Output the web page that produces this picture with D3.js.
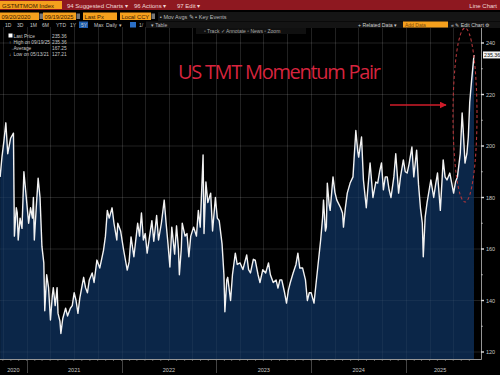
<!DOCTYPE html>
<html>
<head>
<meta charset="utf-8">
<script src="https://d3js.org/d3.v7.min.js"></script>
<style>
  html, body { margin: 0; padding: 0; background: #000; }
  svg { display: block; font-family: "Liberation Sans", Arial, sans-serif; }
</style>
<title>GSTMTMOM Index</title>
</head>
<body>
<div id="chart"></div>
<script>
// GSTMTMOM Index, daily, 09/20/2020 - 09/19/2025 (decimal years)
var when = [2020.72,2020.74,2020.76,2020.78,2020.80,2020.83,2020.86,2020.87,2020.89,2020.90,
  2020.91,2020.93,2020.95,2020.97,2021.00,2021.02,2021.04,2021.06,2021.07,2021.08,
  2021.10,2021.12,2021.14,2021.16,2021.18,2021.19,2021.21,2021.23,2021.25,2021.27,
  2021.28,2021.30,2021.32,2021.33,2021.35,2021.36,2021.38,2021.41,2021.43,2021.46,
  2021.48,2021.50,2021.52,2021.54,2021.56,2021.60,2021.62,2021.64,2021.66,2021.69,
  2021.71,2021.74,2021.77,2021.81,2021.83,2021.85,2021.87,2021.90,2021.92,2021.95,
  2021.96,2021.99,2022.02,2022.06,2022.08,2022.10,2022.13,2022.17,2022.19,2022.21,
  2022.23,2022.25,2022.27,2022.30,2022.32,2022.34,2022.37,2022.39,2022.42,2022.45,
  2022.47,2022.49,2022.51,2022.53,2022.56,2022.58,2022.60,2022.61,2022.63,2022.64,
  2022.67,2022.69,2022.71,2022.73,2022.76,2022.79,2022.81,2022.83,2022.86,2022.87,
  2022.89,2022.91,2022.94,2022.96,2022.99,2023.01,2023.03,2023.06,2023.08,2023.09,
  2023.11,2023.12,2023.15,2023.17,2023.20,2023.22,2023.25,2023.28,2023.32,2023.34,
  2023.36,2023.39,2023.41,2023.44,2023.46,2023.49,2023.52,2023.55,2023.57,2023.60,
  2023.63,2023.65,2023.67,2023.69,2023.72,2023.74,2023.76,2023.78,2023.81,2023.84,
  2023.86,2023.88,2023.91,2023.94,2023.96,2023.98,2024.00,2024.03,2024.05,2024.07,
  2024.10,2024.12,2024.13,2024.15,2024.16,2024.17,2024.19,2024.20,2024.23,2024.25,
  2024.27,2024.31,2024.33,2024.34,2024.36,2024.38,2024.41,2024.44,2024.47,2024.49,
  2024.50,2024.53,2024.55,2024.58,2024.60,2024.62,2024.65,2024.68,2024.70,2024.72,
  2024.74,2024.76,2024.78,2024.80,2024.82,2024.84,2024.87,2024.89,2024.92,2024.94,
  2024.97,2024.99,2025.01,2025.03,2025.06,2025.08,2025.11,2025.13,2025.15,2025.17,
  2025.18,2025.20,2025.22,2025.26,2025.29,2025.31,2025.33,2025.36,2025.39,2025.41,
  2025.43,2025.46,2025.50,2025.52,2025.54,2025.57,2025.59,2025.60,2025.62,2025.64,
  2025.655,2025.67,2025.69,2025.715];
var price = [188,196,202,209,197,203,205,165,176,174,
  163.5,172,168,190,178,170,176,172,180,163.5,
  176,187.5,180,161,154.6,136,150,145,132.4,142,
  145,138,145,135,132,127.21,133,137,134,137,
  138,143,140,135,141,149,145,143,148,150.7,
  147,155.7,152.6,159.6,165,175,172,176,170,163.5,
  170,167,160,151.8,155,164.7,157,170,165,174,
  163.5,166,158.4,166,171,163,173,163.5,170,179,
  170,162,153,168.5,158,169,160,150,160,170,
  165,166,157,165,168.5,165,175,168.5,196.5,166,
  186,178,181.7,167,180,172,171,162,150,135.6,
  148,149,140,150,158.4,154,154.6,152,157.7,152,
  150.7,156,155.7,150,147,152,150.7,154.6,150,147,
  148,144.8,148,148,143,139,144,147,150.7,154,
  158.4,152.6,152.6,148,140,143,143,139,146,153,
  163.5,172,179,167,168.5,185.6,177,175,188,182,
  179,176,174,168.5,176,181.7,185.6,188,206,198,
  195.7,203.5,186.8,176,185,193.4,180,186,185.6,190,
  193.4,183,188,188,183,180,188,197,181.7,188,
  194.6,190,189.5,193,199.6,188,198.4,185,176,170,
  157,172.4,178,186.8,180,185,189.5,175,194.6,188,
  186.8,189.5,181.7,186,188,197,212.8,207,193.4,197,
  203.5,217,225.6,235.36];
var yTicks = [120,140,160,180,200,220,240];
var legendRows = [["Last Price","235.36"],["High on 09/19/25","235.36"],["Average","167.25"],["Low on 05/13/21","127.21"]];
var title = "US TMT Momentum Pair";

var W = 500, H = 375;
var orange = "#f5a01d", barRed = "#8e1820", txt = "#c8c8c8";

function toDate(t) {
  var y = Math.floor(t), a = new Date(y, 0, 1), b = new Date(y + 1, 0, 1);
  return new Date(+a + (t - y) * (b - a));
}
var data = when.map(function(t, i) { return {d: toDate(t), v: price[i]}; });

var svg = d3.select("#chart").append("svg").attr("width", W).attr("height", H);
svg.append("rect").attr("width", W).attr("height", H).attr("fill", "#000");

var x = d3.scaleTime().domain([new Date(2020, 8, 20), new Date(2025, 8, 19)]).range([0, 474]);
var y = d3.scaleLinear().domain([120, 240]).range([352, 43]);
var axisX = 481, axisY = 359, plotTop = 27;

// grid
var grid = svg.append("g").attr("stroke", "#fff").attr("stroke-opacity", 0.13).attr("stroke-width", 0.7);
grid.selectAll("line.v").data(x.ticks(d3.timeMonth.every(3))).enter().append("line")
  .attr("x1", function(d){ return Math.round(x(d)) + 0.5; }).attr("x2", function(d){ return Math.round(x(d)) + 0.5; })
  .attr("y1", plotTop).attr("y2", axisY);
grid.selectAll("line.h").data(yTicks).enter().append("line")
  .attr("x1", 0).attr("x2", axisX).attr("y1", function(d){ return y(d); }).attr("y2", function(d){ return y(d); });

// area + line
var area = d3.area().x(function(d){ return x(d.d); }).y0(axisY).y1(function(d){ return y(d.v); });
var line = d3.line().x(function(d){ return x(d.d); }).y(function(d){ return y(d.v); });
svg.append("path").datum(data).attr("d", area).attr("fill", "#0b2648");
grid.clone(true).raise().attr("stroke-opacity", 0.07);
svg.append("path").datum(data).attr("d", line).attr("fill", "none")
  .attr("stroke", "#f2f2f2").attr("stroke-width", 1.4).attr("stroke-linejoin", "round");

// y axis (right)
svg.append("line").attr("x1", axisX + 0.5).attr("x2", axisX + 0.5).attr("y1", plotTop).attr("y2", axisY + 0.5)
  .attr("stroke", "#bbb").attr("stroke-width", 0.8);
svg.selectAll("line.minor").data(d3.range(120, 250, 10)).enter().append("line")
  .attr("x1", axisX).attr("x2", function(d){ return d % 20 ? axisX + 2 : axisX + 3; })
  .attr("y1", function(d){ return y(d); }).attr("y2", function(d){ return y(d); })
  .attr("stroke", "#ddd").attr("stroke-width", function(d){ return d % 20 ? 0.6 : 1.4; });
svg.selectAll("text.yt").data(yTicks).enter().append("text")
  .attr("x", axisX + 5).attr("y", function(d){ return y(d) + 2; })
  .attr("fill", txt).attr("font-size", 5.5).text(function(d){ return d; });
// last price tag
var last = data[data.length - 1];
svg.append("rect").attr("x", axisX + 2).attr("y", y(last.v) - 3.5).attr("width", 17).attr("height", 7)
  .attr("fill", "#f4f4f4");
svg.append("text").attr("x", axisX + 3).attr("y", y(last.v) + 2).attr("font-size", 5.3).attr("fill", "#111")
  .text(last.v.toFixed(2));

// x axis (bottom)
svg.append("line").attr("x1", 0).attr("x2", axisX + 0.5).attr("y1", axisY + 0.5).attr("y2", axisY + 0.5)
  .attr("stroke", "#bbb").attr("stroke-width", 0.8);
svg.selectAll("line.mt").data(x.ticks(d3.timeMonth.every(1))).enter().append("line")
  .attr("x1", function(d){ return x(d); }).attr("x2", function(d){ return x(d); })
  .attr("y1", axisY).attr("y2", axisY + 2).attr("stroke", "#999").attr("stroke-width", 0.6);
var years = x.ticks(d3.timeYear.every(1));
svg.selectAll("line.yr").data(years).enter().append("line")
  .attr("x1", function(d){ return Math.round(x(d)) + 0.5; }).attr("x2", function(d){ return Math.round(x(d)) + 0.5; })
  .attr("y1", axisY + 1).attr("y2", H - 2).attr("stroke", "#555").attr("stroke-width", 0.8);
var spans = [x.domain()[0]].concat(years).map(function(d, i, arr) {
  var end = i < arr.length - 1 ? arr[i + 1] : x.domain()[1];
  return {label: d.getFullYear(), mid: (x(d) + x(end)) / 2};
});
svg.selectAll("text.xt").data(spans).enter().append("text")
  .attr("x", function(d){ return d.mid; }).attr("y", 372).attr("text-anchor", "middle")
  .attr("fill", txt).attr("font-size", 5.5).text(function(d){ return d.label; });

// annotations: title, arrow, dashed ellipse
svg.append("text").attr("x", 178).attr("y", 79).attr("fill", "#d6243e")
  .attr("font-family", "'Open Sans', sans-serif").attr("font-size", 20).attr("textLength", 203)
  .text(title);
svg.append("defs").append("marker").attr("id", "ah").attr("viewBox", "0 0 10 10")
  .attr("refX", 9).attr("refY", 5).attr("markerWidth", 5).attr("markerHeight", 5).attr("orient", "auto")
  .append("path").attr("d", "M0,0L10,5L0,10z").attr("fill", "#d01c2a");
svg.append("line").attr("x1", 390).attr("x2", 446).attr("y1", 105).attr("y2", 105)
  .attr("stroke", "#d01c2a").attr("stroke-width", 1.4).attr("marker-end", "url(#ah)");
svg.append("ellipse").attr("cx", 465).attr("cy", 115).attr("rx", 12).attr("ry", 87)
  .attr("fill", "none").attr("stroke", "#b3363a").attr("stroke-width", 1.1).attr("stroke-dasharray", "3,2.5");

// legend
var lg = svg.append("g").attr("font-size", 4.8).attr("fill", txt);
lg.append("rect").attr("x", 8.5).attr("y", 33.5).attr("width", 4).attr("height", 4).attr("fill", "#fff");
var marks = ["", "↑", "→", "↓"];
lg.selectAll("text.k").data(legendRows).enter().append("text")
  .attr("x", 13.5).attr("y", function(d, i){ return 38 + i * 6; }).text(function(d){ return d[0]; });
lg.selectAll("text.m").data(marks).enter().append("text")
  .attr("x", 9).attr("y", function(d, i){ return 38 + i * 6; }).attr("font-size", 4.5).text(function(d){ return d; });
lg.selectAll("text.v").data(legendRows).enter().append("text")
  .attr("x", 52).attr("y", function(d, i){ return 38 + i * 6; }).text(function(d){ return d[1]; });

// Bloomberg toolbar
var tb = svg.append("g").attr("font-size", 6);
tb.append("rect").attr("width", W).attr("height", 10).attr("fill", barRed);
tb.append("rect").attr("x", 0).attr("y", 1).attr("width", 62).attr("height", 8).attr("fill", orange);
tb.append("text").attr("x", 2).attr("y", 7.5).attr("fill", "#3a1a00").text("GSTMTMOM Index");
[["94 Suggested Charts ▾", 67], ["96 Actions ▾", 134], ["97 Edit ▾", 177]].forEach(function(m) {
  tb.append("text").attr("x", m[1]).attr("y", 7.5).attr("fill", "#f0d8d8").text(m[0]);
});
tb.append("text").attr("x", 497).attr("y", 7.5).attr("text-anchor", "end").attr("fill", "#f0d8d8").text("Line Chart");

// row 2
tb.append("rect").attr("x", 158).attr("y", 12).attr("width", 342).attr("height", 9).attr("fill", "#151515");
[["09/20/2020", 0, 39], ["09/19/2025", 43, 33], ["Last Px", 83, 34], ["Local CCY", 120, 31]].forEach(function(b) {
  tb.append("rect").attr("x", b[1]).attr("y", 12.5).attr("width", b[2]).attr("height", 7.5).attr("fill", orange);
  tb.append("text").attr("x", b[1] + 1.5).attr("y", 18.5).attr("fill", "#3a1a00").attr("font-size", 5.8).text(b[0]);
});
[39.5, 76.5, 151.5].forEach(function(px) {
  tb.append("rect").attr("x", px).attr("y", 13.5).attr("width", 3.5).attr("height", 5.5).attr("fill", "#777");
});
tb.append("text").attr("x", 160).attr("y", 18.5).attr("fill", "#bbb").attr("font-size", 5.5).text("▪ Mov Avgs ✎    ▪ Key Events");

// row 3
var periods = [["1D",5],["3D",17],["1M",30],["6M",42],["YTD",56],["1Y",70],["5Y",81],["Max",94],["Daily ▾",106]];
tb.append("rect").attr("x", 79).attr("y", 21.5).attr("width", 9).attr("height", 6.5).attr("fill", "#1f5fb0");
periods.forEach(function(p) {
  tb.append("text").attr("x", p[1]).attr("y", 26.8).attr("fill", "#c8c8c8").attr("font-size", 5).text(p[0]);
});
tb.append("rect").attr("x", 130).attr("y", 22).attr("width", 6).attr("height", 5.5).attr("fill", "#2a6fc8");
tb.append("text").attr("x", 139).attr("y", 26.8).attr("fill", "#bbb").attr("font-size", 5).text("1/");
tb.append("rect").attr("x", 146).attr("y", 21.5).attr("width", 354).attr("height", 6.5).attr("fill", "#141414");
tb.append("text").attr("x", 151).attr("y", 26.8).attr("fill", "#bbb").attr("font-size", 5).text("▾      Table");
tb.append("text").attr("x", 358).attr("y", 26.5).attr("fill", "#ccc").attr("font-size", 5.2).text("+ Related Data ▾");
tb.append("rect").attr("x", 403).attr("y", 21.5).attr("width", 45).attr("height", 6).attr("fill", orange);
tb.append("text").attr("x", 405).attr("y", 26.5).attr("fill", "#7a4a10").attr("font-size", 5).text("Add Data");
tb.append("text").attr("x", 451).attr("y", 26.5).attr("fill", "#ccc").attr("font-size", 5.2).text("« ✎ Edit Chart ⚙");

// row 4
tb.append("rect").attr("x", 196).attr("y", 28).attr("width", 110).attr("height", 6).attr("fill", "#101010");
tb.append("text").attr("x", 204).attr("y", 33).attr("fill", "#aaa").attr("font-size", 5)
  .text("▫ Track   ✓ Annotate   ▫ News   ▫ Zoom");
</script>
</body>
</html>
